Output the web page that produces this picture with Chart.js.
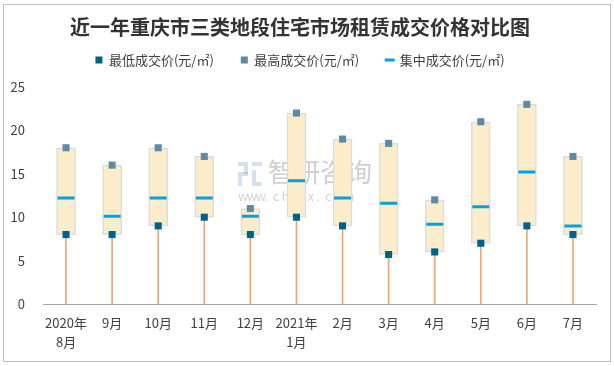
<!DOCTYPE html>
<html>
<head>
<meta charset="utf-8">
<script src="https://cdn.jsdelivr.net/npm/chart.js@4.4.1/dist/chart.umd.min.js"></script>
<style>
html,body{margin:0;padding:0;background:#fff;}
canvas{display:block;}
</style>
</head>
<body>
<canvas id="c" width="614" height="366"></canvas>
<script>
const categories = [['2020年','8月'],'9月','10月','11月','12月',['2021年','1月'],'2月','3月','4月','5月','6月','7月'];
const lowPrice  = [8, 8, 9, 10, 8, 10, 9, 5.7, 6, 7, 9, 8];
const highPrice = [18, 16, 18, 17, 11, 22, 19, 18.5, 12, 21, 23, 17];
const midPrice  = [12.2, 10.1, 12.2, 12.2, 10.1, 14.2, 12.2, 11.6, 9.2, 11.2, 15.2, 9.0];
const yTicks = [0, 5, 10, 15, 20, 25];

const FONT = "'Noto Sans CJK SC', 'Noto Sans', sans-serif";

const frame = {
  id: 'frame',
  beforeDraw(chart) {
    const ctx = chart.ctx;
    ctx.save();
    ctx.fillStyle = '#ffffff';
    ctx.fillRect(0, 0, chart.width, chart.height);
    ctx.strokeStyle = '#BFBFBF';
    ctx.lineWidth = 1;
    ctx.strokeRect(3.5, 4.5, 607, 357);
    ctx.restore();
  },
  beforeDatasetsDraw(chart) {
    const ctx = chart.ctx;
    ctx.save();
    ctx.fillStyle = 'rgba(160,160,160,0.5)';
    ctx.font = "26px " + FONT;
    ctx.textBaseline = 'middle';
    ctx.textAlign = 'left';
    ctx.fillText('智研咨询', 268, 172);
    ctx.font = "13px " + FONT;
    ctx.fillStyle = 'rgba(160,160,160,0.45)';
    const w = 'www.chyxx.com';
    for (let i = 0; i < w.length; i++) ctx.fillText(w[i], 238 + i * 8.7, 196);
    ctx.fillStyle = 'rgba(120,150,200,0.3)';
    ctx.fillRect(238, 162, 10, 4);
    ctx.fillRect(244, 166, 4, 8);
    ctx.fillRect(238, 172, 10, 4);
    ctx.fillRect(238, 176, 4, 10);
    ctx.fillRect(252, 162, 10, 4);
    ctx.fillRect(252, 170, 4, 16);
    ctx.fillRect(256, 182, 6, 4);
    ctx.restore();
  }
};

new Chart(document.getElementById('c'), {
  type: 'bar',
  data: {
    labels: categories,
    datasets: [
      {
        label: 'drop',
        type: 'bar',
        data: lowPrice.map(v => [0, v]),
        backgroundColor: '#F2A66A',
        borderWidth: 0,
        barThickness: 1,
        grouped: false,
        order: 5
      },
      {
        label: 'range',
        type: 'bar',
        data: lowPrice.map((v, i) => [v, highPrice[i]]),
        backgroundColor: '#FBEDC9',
        borderColor: '#DCDCDC',
        borderWidth: 1.5,
        borderSkipped: false,
        barThickness: 19,
        grouped: false,
        order: 4
      },
      {
        label: '最低成交价(元/㎡)',
        type: 'line',
        data: lowPrice,
        showLine: false,
        pointStyle: 'rect',
        pointRadius: 5,
        pointHoverRadius: 5,
        backgroundColor: '#00618A',
        borderColor: '#00618A',
        borderWidth: 0,
        order: 1
      },
      {
        label: '最高成交价(元/㎡)',
        type: 'line',
        data: highPrice,
        showLine: false,
        pointStyle: 'rect',
        pointRadius: 5,
        pointHoverRadius: 5,
        backgroundColor: '#5B8BA6',
        borderColor: '#5B8BA6',
        borderWidth: 0,
        order: 2
      },
      {
        label: '集中成交价(元/㎡)',
        type: 'line',
        data: midPrice,
        showLine: false,
        pointStyle: 'line',
        pointRadius: 8.5,
        pointHoverRadius: 8.5,
        pointBorderWidth: 3,
        backgroundColor: '#00A2DF',
        borderColor: '#00A2DF',
        borderWidth: 3,
        order: 3
      }
    ]
  },
  options: {
    responsive: false,
    animation: false,
    devicePixelRatio: 1,
    layout: { padding: { left: 4, right: 18, top: 0, bottom: 6 } },
    plugins: {
      title: {
        display: true,
        text: '近一年重庆市三类地段住宅市场租赁成交价格对比图',
        color: '#333333',
        font: { family: FONT, size: 20, weight: 'bold' },
        padding: { top: 15, bottom: -12.5 }
      },
      subtitle: {
        display: true,
        text: ' ',
        weight: 500,
        font: { family: FONT, size: 1, lineHeight: 1 },
        padding: { top: 0, bottom: 9.5 }
      },
      legend: {
        display: true,
        position: 'top',
        labels: {
          filter: item => item.datasetIndex >= 2,
          usePointStyle: true,
          boxWidth: 7,
          boxHeight: 7,
          color: '#404040',
          font: { family: FONT, size: 13 },
          padding: 27
        }
      },
      tooltip: { enabled: false }
    },
    scales: {
      x: {
        grid: { display: false, drawTicks: false },
        border: { display: true, color: '#A6A6A6', width: 1 },
        ticks: {
          color: '#404040',
          font: { family: FONT, size: 13, lineHeight: 1.5 },
          padding: 9,
          maxRotation: 0,
          autoSkip: false
        },
        afterFit(scale) { scale.height = 56; }
      },
      y: {
        min: 0,
        max: 25,
        afterBuildTicks(scale) { scale.ticks = yTicks.map(v => ({ value: v })); },
        grid: { display: false, drawTicks: false },
        border: { display: false },
        ticks: {
          color: '#404040',
          font: { family: FONT, size: 13 },
          padding: 18
        },
        afterFit(scale) { scale.width = 39; }
      }
    }
  },
  plugins: [frame]
});
</script>
</body>
</html>
